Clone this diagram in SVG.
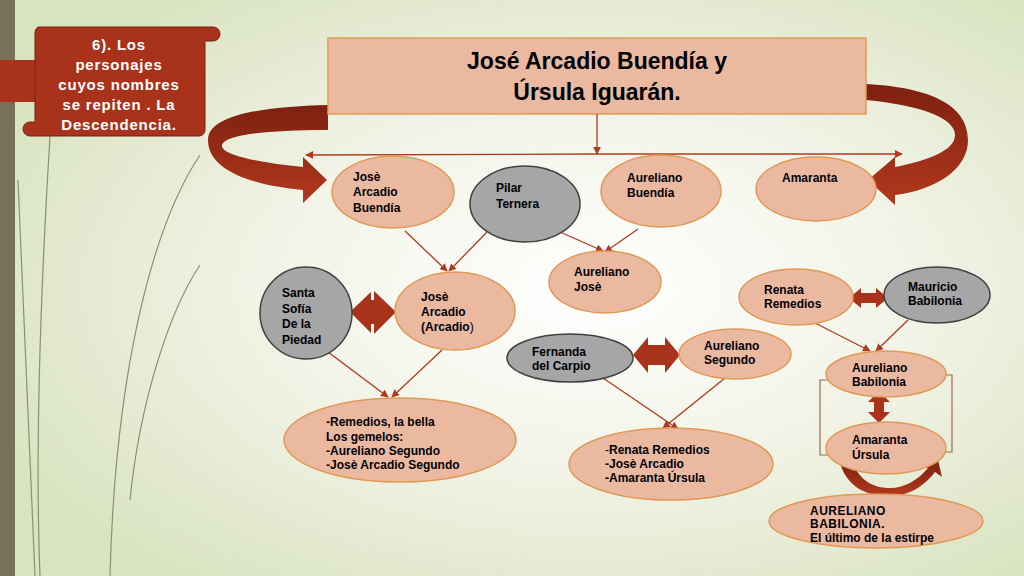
<svg xmlns="http://www.w3.org/2000/svg" width="1024" height="576" viewBox="0 0 1024 576">
<defs>
<radialGradient id="bg" cx="0.58" cy="0.5" r="0.65">
<stop offset="0" stop-color="#ffffff"/><stop offset="0.5" stop-color="#f1f3e6"/><stop offset="1" stop-color="#d9e3c0"/>
</radialGradient>
<linearGradient id="arr" x1="0" y1="0" x2="0" y2="1"><stop offset="0" stop-color="#7d2010"/><stop offset="1" stop-color="#b2391d"/></linearGradient>
<marker id="ah" viewBox="0 0 10 10" refX="9" refY="5" markerWidth="6" markerHeight="6" orient="auto"><path d="M0,0 L10,5 L0,10 z" fill="#b03a1e"/></marker>
<style>
.p{fill:#ebb9a0;stroke:#df9a55;stroke-width:1.5}
.g{fill:#a6a6a6;stroke:#404040;stroke-width:1.5}
.t{font-family:"Liberation Sans",Arial,sans-serif;font-weight:bold;font-size:12px;fill:#000}
.c{stroke:#b03a1e;stroke-width:1.3;fill:none;marker-end:url(#ah)}
.r{fill:#a8321a}
</style>
</defs>
<rect width="1024" height="576" fill="url(#bg)"/>
<rect x="0" y="0" width="15" height="576" fill="#77715a"/>
<g fill="none" stroke="#8a9070" stroke-width="1.2">
<path d="M50,136 C40,300 35,450 40,576"/>
<path d="M18,180 C25,350 30,470 35,576"/>
<path d="M200,155 C150,230 115,380 110,576"/>
<path d="M200,265 C170,310 140,400 130,500"/>
</g>
<g id="banner">
<rect x="0" y="60" width="45" height="42" fill="#a8321a"/>
<path d="M38,27 H213 a7,7 0 0 1 0,14 H205 V130 a6,6 0 0 1 -6,6 H30 a7,7 0 0 1 0,-14 H35 V34 a7,7 0 0 1 3,-7z" fill="#a8321a" stroke="#7a2010"/>
<text x="119" y="50" text-anchor="middle" font-family="Liberation Sans,Arial,sans-serif" font-weight="bold" font-size="15" fill="#fff" letter-spacing="0.8"><tspan x="119">6). Los</tspan><tspan x="119" dy="20">personajes</tspan><tspan x="119" dy="20">cuyos nombres</tspan><tspan x="119" dy="20">se repiten . La</tspan><tspan x="119" dy="20">Descendencia.</tspan></text>
</g>
<g id="bigarrows">
<path d="M328,105 C250,107 208,118 208,140 C208,170 250,185 303,190 L303,203 L327,180 L303,157 L303,167 C260,163 222,155 222,146 C222,136 260,130 328,130 Z" fill="url(#arr)"/>
<path d="M866,84 C940,88 968,110 968,140 C968,170 935,190 895,195 L895,205 L868,180 L895,157 L895,167 C930,160 955,150 955,135 C955,118 920,105 866,100 Z" fill="url(#arr)"/>
</g>
<g id="title">
<rect x="328" y="38" width="538" height="76" fill="#ebb9a0" stroke="#df9a55" stroke-width="1.5"/>
<text x="597" y="69" text-anchor="middle" font-family="Liberation Sans,Arial,sans-serif" font-weight="bold" font-size="23">José Arcadio Buendía y</text>
<text x="597" y="100" text-anchor="middle" font-family="Liberation Sans,Arial,sans-serif" font-weight="bold" font-size="23">Úrsula Iguarán.</text>
</g>
<g id="connectors">
<line class="c" x1="597" y1="114" x2="597" y2="154"/>
<line class="c" x1="597" y1="154" x2="306" y2="155"/>
<line class="c" x1="597" y1="154" x2="902" y2="154"/>
<line class="c" x1="405" y1="231" x2="447" y2="271"/>
<line class="c" x1="487" y1="232" x2="449" y2="271"/>
<line class="c" x1="560" y1="232" x2="603" y2="251"/>
<line class="c" x1="638" y1="229" x2="605" y2="252"/>
<path d="M516,241 L522,236 L522,241z" fill="#b03a1e"/>
<line class="c" x1="328" y1="352" x2="388" y2="397"/>
<line class="c" x1="442" y1="350" x2="392" y2="397"/>
<line class="c" x1="603" y1="378" x2="678" y2="429"/>
<line class="c" x1="725" y1="378" x2="663" y2="428"/>
<line class="c" x1="815" y1="323" x2="870" y2="351"/>
<line class="c" x1="908" y1="320" x2="876" y2="351"/>
<path d="M830,380 H820 V455 H830 M942,375 H952 V452 H944" fill="none" stroke="#9a6a50" stroke-width="1.2"/>
</g>
<g id="doublearrows">
<path class="r" d="M350,312 L373,290 L396,312 L373,335 Z"/>
<rect x="371" y="290" width="3" height="10" fill="#fff"/><rect x="371" y="324" width="3" height="11" fill="#fff"/>
<path class="r" d="M633,355 L648,337 L648,345 L665,345 L665,337 L680,355 L665,373 L665,365 L648,365 L648,373 Z"/>
<path class="r" d="M849,298 L861,288 L861,293 L876,293 L876,288 L888,298 L876,308 L876,303 L861,303 L861,308 Z"/>
<path class="r" d="M879,391 L890,402 L884,402 L884,412 L890,412 L879,423 L868,412 L874,412 L874,402 L868,402 Z"/>
<path d="M840,463 C848,490 870,496 890,496 C910,496 925,485 935,472 L942,477 L938,460 L922,466 L928,468 C918,480 905,488 890,488 C872,488 860,480 852,462Z" fill="url(#arr)"/>
</g>
<g id="n1"><ellipse class="p" cx="393" cy="192" rx="61" ry="36"/><text class="t" x="353" y="181">Josè</text><text class="t" x="353" y="196">Arcadio</text><text class="t" x="353" y="212">Buendía</text></g>
<g id="n2"><ellipse class="g" cx="525" cy="204" rx="55" ry="38"/><text class="t" x="496" y="192">Pilar</text><text class="t" x="496" y="208">Ternera</text></g>
<g id="n3"><ellipse class="p" cx="661" cy="191" rx="60" ry="36"/><text class="t" x="627" y="182">Aureliano</text><text class="t" x="627" y="197">Buendía</text></g>
<g id="n4"><ellipse class="p" cx="816" cy="189" rx="60" ry="32"/><text class="t" x="782" y="182">Amaranta</text></g>
<g id="n5"><ellipse class="p" cx="605" cy="282" rx="56" ry="31"/><text class="t" x="574" y="276">Aureliano</text><text class="t" x="574" y="291">Josè</text></g>
<g id="n6"><ellipse class="g" cx="306" cy="313" rx="46" ry="46"/><text class="t" x="282" y="297">Santa</text><text class="t" x="282" y="313">Sofía</text><text class="t" x="282" y="328">De la</text><text class="t" x="282" y="344">Piedad</text></g>
<g id="n7"><ellipse class="p" cx="455" cy="311" rx="60" ry="39"/><text class="t" x="421" y="301">Josè</text><text class="t" x="421" y="316">Arcadio</text><text class="t" x="421" y="331">(Arcadio<tspan font-weight="normal">)</tspan></text></g>
<g id="n8"><ellipse class="p" cx="796" cy="297" rx="57" ry="28"/><text class="t" x="764" y="294">Renata</text><text class="t" x="764" y="308">Remedios</text></g>
<g id="n9"><ellipse class="g" cx="937" cy="295" rx="53" ry="28"/><text class="t" x="908" y="291">Mauricio</text><text class="t" x="908" y="305">Babilonia</text></g>
<g id="n10"><ellipse class="g" cx="570" cy="358" rx="63" ry="24"/><text class="t" x="532" y="356">Fernanda</text><text class="t" x="532" y="370">del Carpio</text></g>
<g id="n11"><ellipse class="p" cx="735" cy="354" rx="56" ry="25"/><text class="t" x="704" y="350">Aureliano</text><text class="t" x="704" y="364">Segundo</text></g>
<g id="n12"><ellipse class="p" cx="886" cy="374" rx="60" ry="23"/><text class="t" x="852" y="372">Aureliano</text><text class="t" x="852" y="386">Babilonia</text></g>
<g id="n13"><ellipse class="p" cx="886" cy="448" rx="60" ry="26"/><text class="t" x="852" y="444">Amaranta</text><text class="t" x="852" y="459">Úrsula</text></g>
<g id="n14"><ellipse class="p" cx="400" cy="440" rx="116" ry="42"/><text class="t" x="326" y="426">-Remedios, la bella</text><text class="t" x="326" y="441">Los gemelos:</text><text class="t" x="326" y="455">-Aureliano Segundo</text><text class="t" x="326" y="469">-Josè Arcadio Segundo</text></g>
<g id="n15"><ellipse class="p" cx="671" cy="464" rx="102" ry="36"/><text class="t" x="605" y="454"><tspan font-weight="normal">-</tspan>Renata Remedios</text><text class="t" x="605" y="468">-Josè Arcadio</text><text class="t" x="605" y="482">-Amaranta  Úrsula</text></g>
<g id="n16"><ellipse class="p" cx="876" cy="521" rx="107" ry="27"/><text class="t" x="810" y="515" font-size="10.5" letter-spacing="0.5">AURELIANO</text><text class="t" x="810" y="528" font-size="10.5" letter-spacing="0.5">BABILONIA.</text><text class="t" x="810" y="542" font-size="10.5">El último de la estirpe</text></g>
</svg>
